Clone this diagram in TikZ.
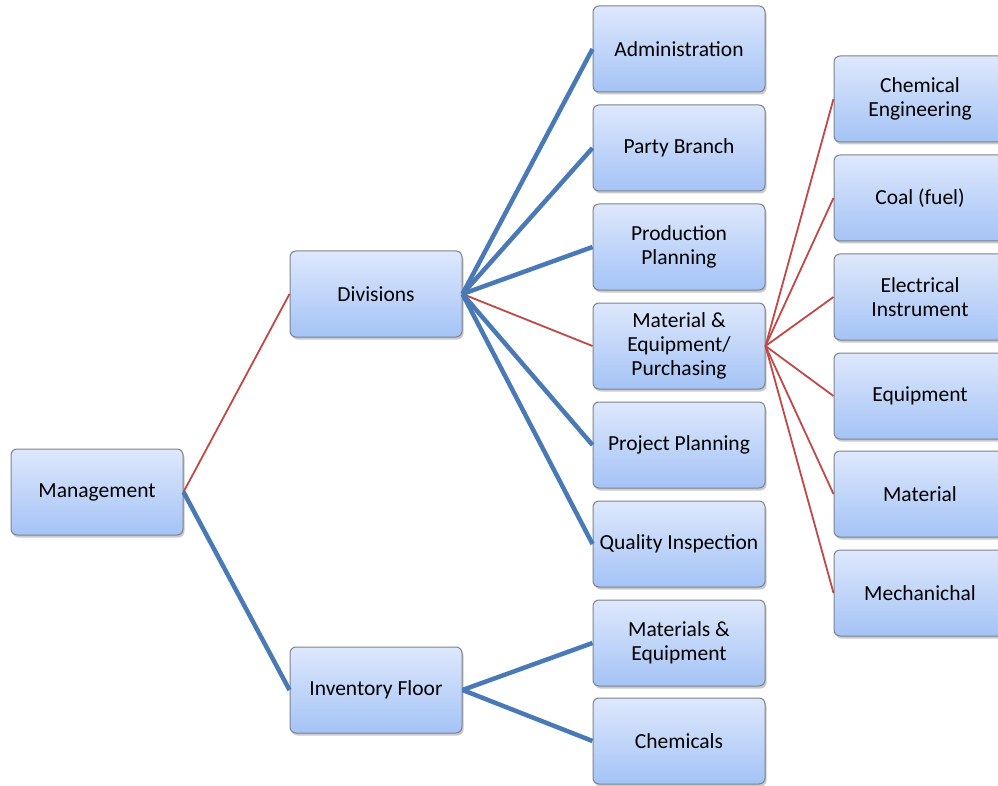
\documentclass[tikz,border=0pt]{standalone}
\usepackage{fontspec}
\setmainfont{Carlito}
\usepackage{tikz}
\usetikzlibrary{shadows}
\definecolor{boxtop}{RGB}{222,232,252}
\definecolor{boxbot}{RGB}{164,195,246}
\definecolor{boxline}{RGB}{125,132,142}
\definecolor{linkblue}{RGB}{74,122,181}
\definecolor{linkred}{RGB}{192,72,70}

\begin{document}
\begin{tikzpicture}[x=1pt,y=-1pt,
  unit/.style={draw=boxline, line width=1pt, rounded corners=6pt,
    top color=boxtop, bottom color=boxbot,
    minimum width=172pt, minimum height=86pt, align=center,
    font=\fontsize{21.5}{24}\selectfont,
    drop shadow={shadow xshift=1.5pt, shadow yshift=-2.5pt, opacity=0.35, fill=black!60}},
  major/.style={draw=linkblue, line width=4.5pt},
  minor/.style={draw=linkred, line width=1.8pt}]
\useasboundingbox (0,0) rectangle (998,786);
% first and second level
\node[unit] (mgmt) at (97,492) {Management};
\node[unit] (div) at (376,294) {Divisions};
\node[unit] (inv) at (376,690) {Inventory Floor};
% divisions
\node[unit] (admin) at (679,49) {Administration};
\node[unit] (party) at (679,148) {Party Branch};
\node[unit] (prod) at (679,247) {Production\\Planning};
\node[unit] (matpur) at (679,346) {Material \&\\Equipment/\\Purchasing};
\node[unit] (proj) at (679,445) {Project Planning};
\node[unit] (qual) at (679,544) {Quality Inspection};
% inventory floor
\node[unit] (mateq) at (679,643) {Materials \&\\Equipment};
\node[unit] (chem) at (679,741) {Chemicals};
% purchasing
\node[unit] (cheng) at (920,99) {Chemical\\Engineering};
\node[unit] (coal) at (920,198) {Coal (fuel)};
\node[unit] (elec) at (920,297) {Electrical\\Instrument};
\node[unit] (equip) at (920,396) {Equipment};
\node[unit] (mat) at (920,494) {Material};
\node[unit] (mech) at (920,593) {Mechanichal};

% connectors
\draw[minor] (mgmt.east) -- (div.west);
\draw[major] (mgmt.east) -- (inv.west);
\draw[major] (div.east) -- (admin.west);
\draw[major] (div.east) -- (party.west);
\draw[major] (div.east) -- (prod.west);
\draw[minor] (div.east) -- (matpur.west);
\draw[major] (div.east) -- (proj.west);
\draw[major] (div.east) -- (qual.west);
\draw[major] (inv.east) -- (mateq.west);
\draw[major] (inv.east) -- (chem.west);
\draw[minor] (matpur.east) -- (cheng.west);
\draw[minor] (matpur.east) -- (coal.west);
\draw[minor] (matpur.east) -- (elec.west);
\draw[minor] (matpur.east) -- (equip.west);
\draw[minor] (matpur.east) -- (mat.west);
\draw[minor] (matpur.east) -- (mech.west);
\end{tikzpicture}
\end{document}
